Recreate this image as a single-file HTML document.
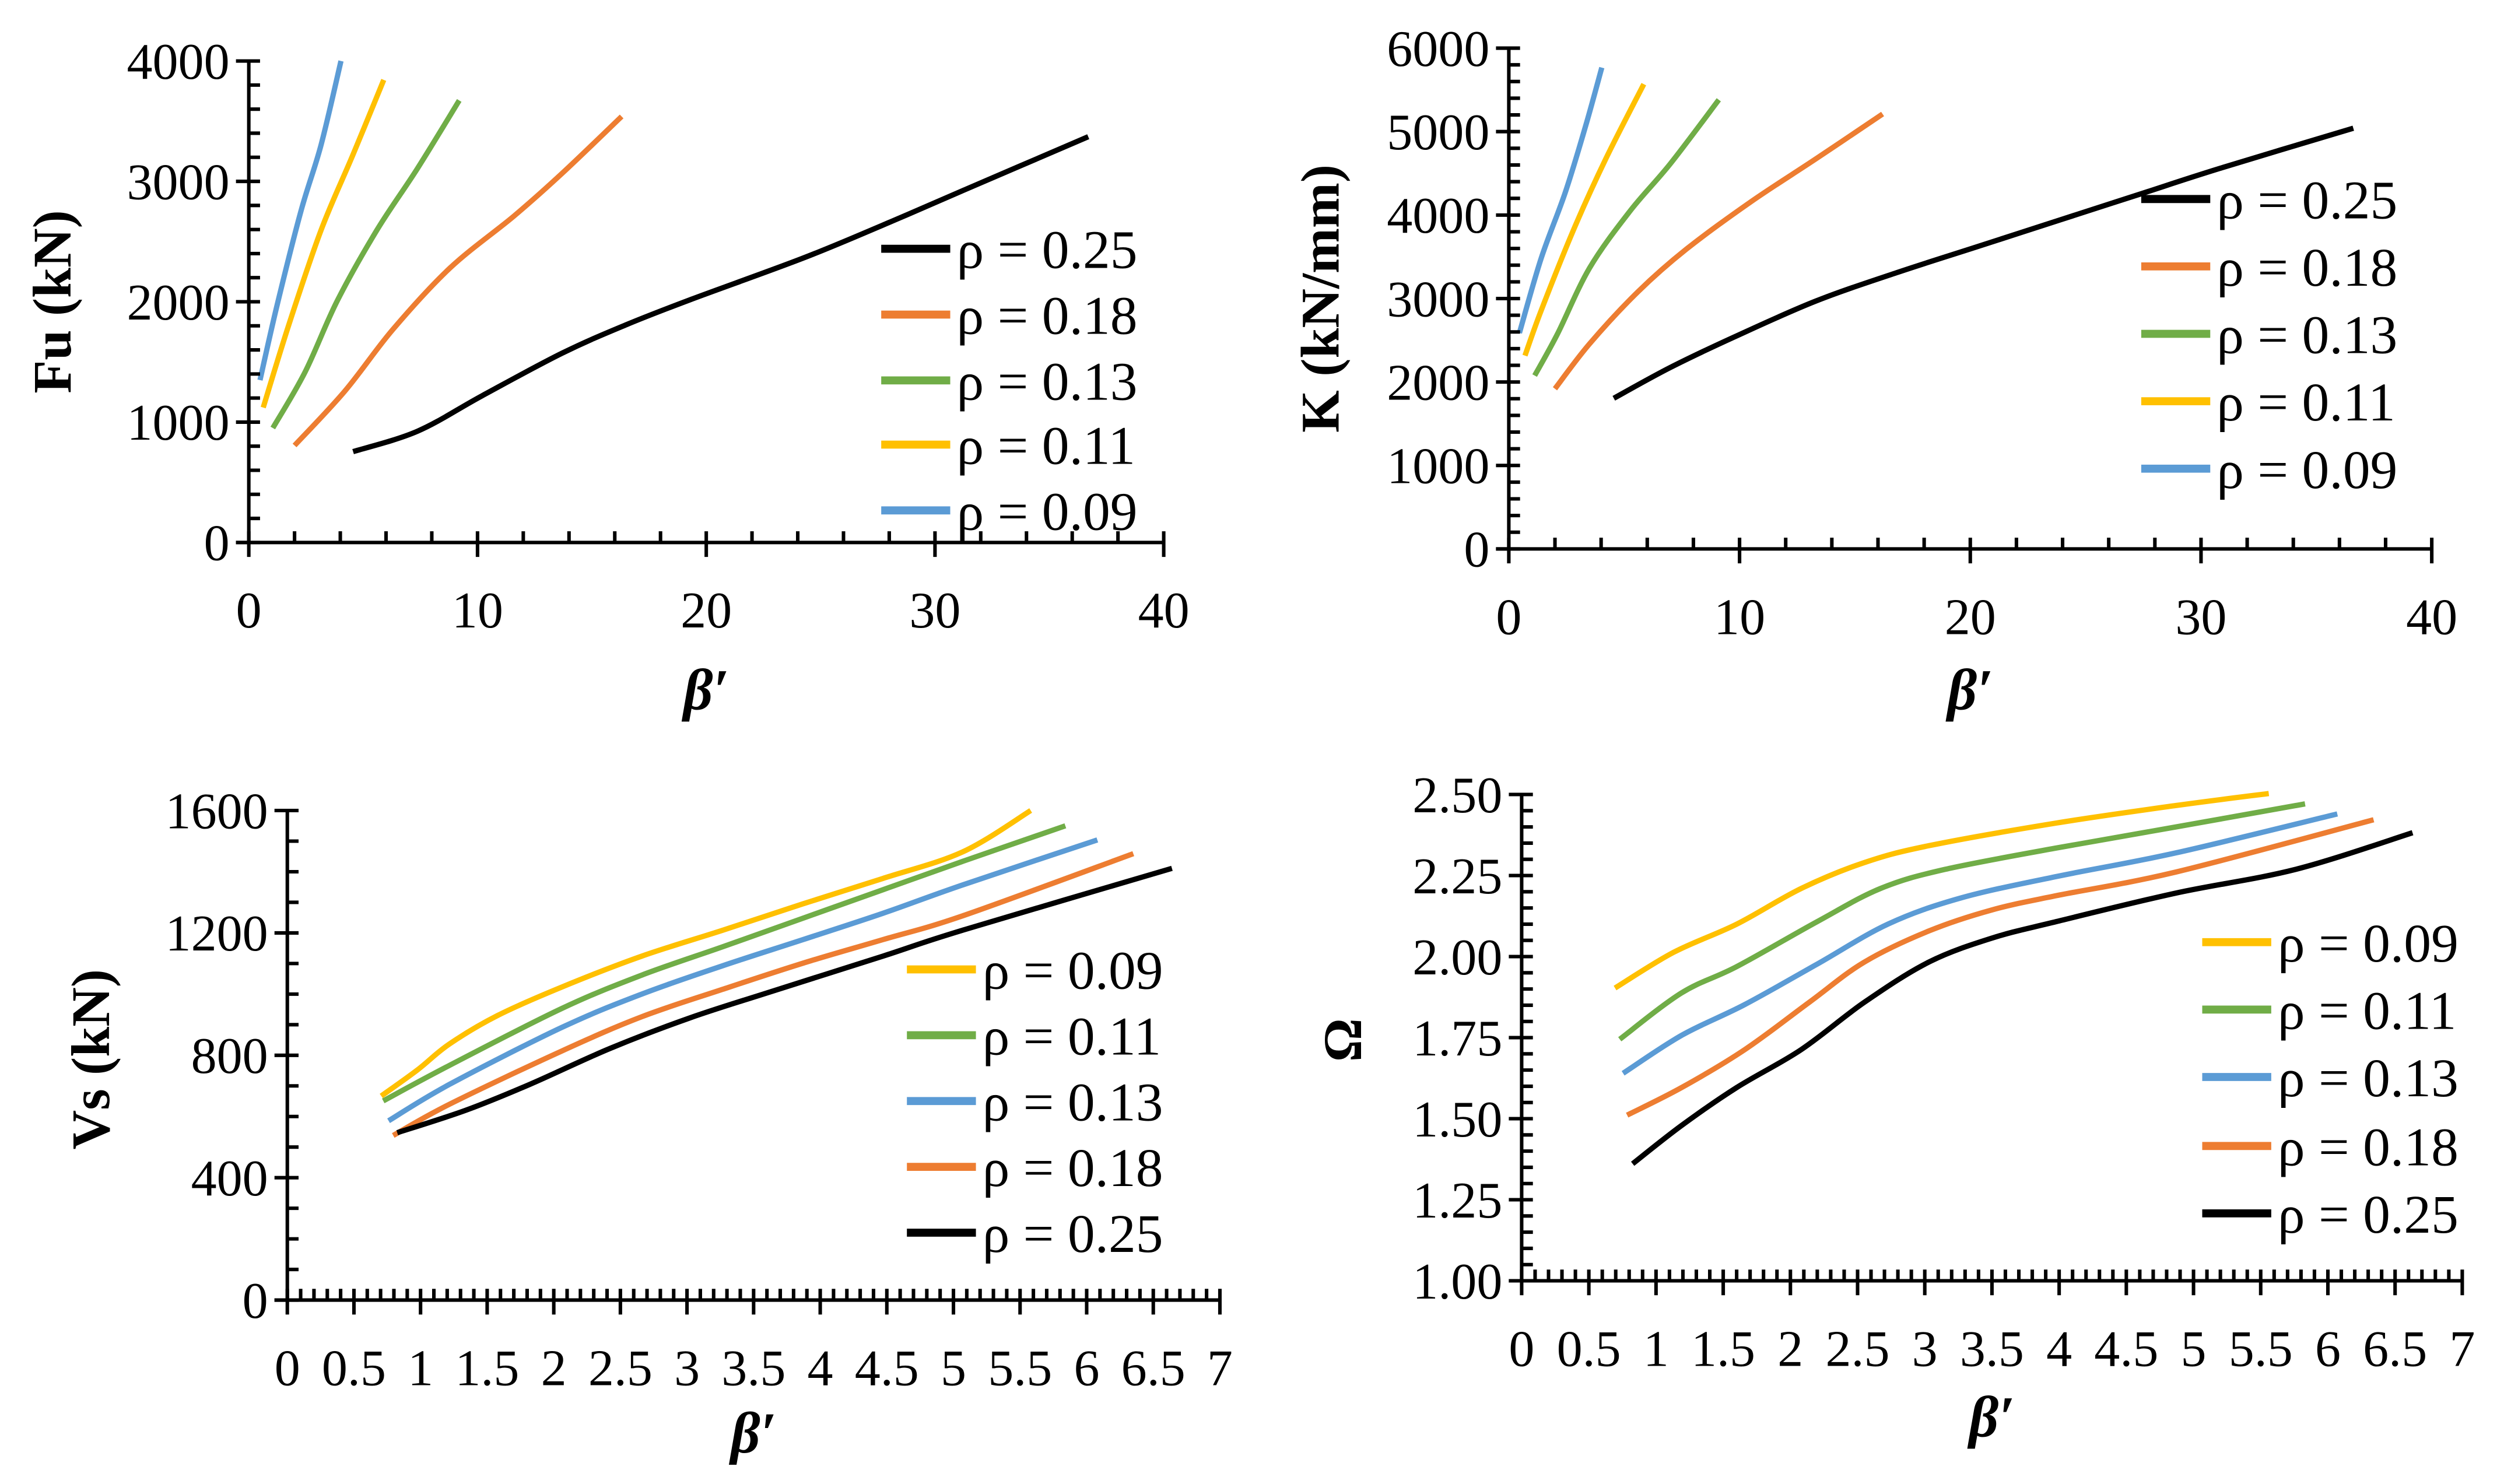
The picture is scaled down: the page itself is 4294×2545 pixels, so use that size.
<!DOCTYPE html>
<html><head><meta charset="utf-8"><style>
html,body{margin:0;padding:0;background:#fff;}
svg{display:block;}
text{font-family:"Liberation Serif","DejaVu Serif",serif;fill:#000;}
</style></head><body>
<svg id="fig" width="4294" height="2545" viewBox="0 0 1560 924.6" xmlns="http://www.w3.org/2000/svg"></svg>
<script>
// ---- data ----
const p1Black_x=[4.56,7.37,10.2,13.7,16.5,19.3,24.2,27.7,31.2,36.7];
const p1Black_y=[755,924,1219,1573,1809,2017,2360,2635,2922,3371];
const p1Orange_x=[2.0,4.2,6.3,8.8,11.6,13.7,16.3];
const p1Orange_y=[806,1258,1770,2281,2713,3067,3539];
const p1Green_x=[1.05,2.46,3.86,5.6,7.37,9.2];
const p1Green_y=[951,1416,2005,2595,3106,3672];
const p1Yellow_x=[0.63,1.75,3.16,4.56,5.9];
const p1Yellow_y=[1121,1809,2595,3224,3843];
const p1Blue_x=[0.49,1.23,2.28,3.16,4.03];
const p1Blue_y=[1349,1966,2753,3303,4000];

const p2Black_x=[4.55,7.0,9.8,13.3,16.8,20.3,23.8,27.3,30.8,36.6];
const p2Black_y=[1805,2174,2543,2969,3309,3621,3934,4246,4558,5041];
const p2Orange_x=[2.0,3.5,5.6,7.7,10.5,13.3,16.2];
const p2Orange_y=[1919,2458,3082,3593,4161,4672,5211];
const p2Green_x=[1.12,2.1,3.5,5.25,7.0,9.1];
const p2Green_y=[2077,2571,3366,4047,4615,5381];
const p2Yellow_x=[0.7,1.4,2.8,4.2,5.85];
const p2Yellow_y=[2316,2855,3820,4672,5569];
const p2Blue_x=[0.46,1.4,2.45,3.33,4.03];
const p2Blue_y=[2588,3480,4274,5069,5767];

const p3Yellow_x=[0.705,0.976,1.217,1.578,2.06,2.66,3.27,3.87,4.47,5.07,5.58];
const p3Yellow_y=[667,752,837,930,1023,1124,1209,1295,1378,1465,1600];
const p3Green_x=[0.72,1.217,2.06,2.66,3.27,3.87,4.47,5.07,5.84];
const p3Green_y=[651,767,953,1062,1155,1248,1341,1434,1550];
const p3Blue_x=[0.76,1.217,2.06,2.66,3.27,3.87,4.47,5.07,6.08];
const p3Blue_y=[586,705,891,1000,1093,1178,1264,1357,1504];
const p3Orange_x=[0.795,1.217,2.06,2.66,3.27,3.87,4.47,5.07,6.35];
const p3Orange_y=[538,640,814,926,1016,1101,1178,1256,1459];
const p3Black_x=[0.825,1.337,1.82,2.42,3.02,3.63,4.47,5.07,6.64];
const p3Black_y=[547,620,705,822,922,1008,1124,1209,1411];

const p4Yellow_x=[0.695,1.13,1.6,2.08,2.55,3.03,3.98,4.87,5.56];
const p4Yellow_y=[1.903,2.013,2.10,2.21,2.29,2.342,2.412,2.466,2.503];
const p4Green_x=[0.73,1.19,1.6,2.2,2.67,3.15,3.98,4.87,5.83];
const p4Green_y=[1.745,1.888,1.969,2.108,2.21,2.269,2.335,2.40,2.471];
const p4Blue_x=[0.755,1.19,1.66,2.2,2.73,3.27,3.98,4.87,6.07];
const p4Blue_y=[1.64,1.757,1.852,1.977,2.101,2.181,2.247,2.32,2.44];
const p4Orange_x=[0.785,1.19,1.66,2.14,2.55,3.03,3.5,3.98,4.87,6.34];
const p4Orange_y=[1.511,1.596,1.713,1.859,1.983,2.079,2.144,2.188,2.261,2.422];
const p4Black_x=[0.826,1.19,1.6,2.08,2.55,3.03,3.5,3.98,4.87,5.76,6.63];
const p4Black_y=[1.361,1.479,1.596,1.713,1.859,1.983,2.057,2.108,2.196,2.269,2.382];

const yTicks1=["0","1000","2000","3000","4000"];
const yTicks2=["0","1000","2000","3000","4000","5000","6000"];
const xTicksA=["0","10","20","30","40"];
const yTicks3=["0","400","800","1200","1600"];
const yTicks4=["1.00","1.25","1.50","1.75","2.00","2.25","2.50"];
const xTicksB=["0","0.5","1","1.5","2","2.5","3","3.5","4","4.5","5","5.5","6","6.5","7"];

const C={black:"#000000",orange:"#ED7D31",green:"#70AD47",yellow:"#FFC000",blue:"#5B9BD5"};
const svg=document.getElementById('fig');
const NS="http://www.w3.org/2000/svg";
function mk(tag,attrs,parent){const e=document.createElementNS(NS,tag);for(const k in attrs)e.setAttribute(k,attrs[k]);(parent||svg).appendChild(e);return e;}
function smooth(pts){let d="M"+pts[0][0]+","+pts[0][1];for(let i=0;i<pts.length-1;i++){const p0=pts[i-1]||pts[i],p1=pts[i],p2=pts[i+1],p3=pts[i+2]||p2;
 const c1x=p1[0]+(p2[0]-p0[0])/6,c1y=p1[1]+(p2[1]-p0[1])/6,c2x=p2[0]-(p3[0]-p1[0])/6,c2y=p2[1]-(p3[1]-p1[1])/6;
 d+=" C"+c1x+","+c1y+" "+c2x+","+c2y+" "+p2[0]+","+p2[1];}return d;}

function panel(cfg){
 const g=mk('g',{});
 
 
 const sx=v=>cfg.x0+(v-cfg.xmin)/(cfg.xmax-cfg.xmin)*(cfg.x1-cfg.x0);
 const sy=v=>cfg.y0-(v-cfg.ymin)/(cfg.ymax-cfg.ymin)*(cfg.y0-cfg.y1);
 cfg.series.forEach(s=>{
  const pts=s.x.map((v,i)=>[sx(v),sy(s.y[i])]);
  const p=mk('path',{d:smooth(pts),fill:'none',stroke:C[s.c],'stroke-width':3.3,'stroke-linejoin':'round'},g);
  
  
 });
 const ax=mk('g',{stroke:'#000','stroke-width':2.2},g);
 
 
 mk('line',{x1:cfg.x0,y1:cfg.y0,x2:cfg.x0,y2:cfg.y1},ax);
 mk('line',{x1:cfg.x0-8,y1:cfg.y0,x2:cfg.x1,y2:cfg.y0},ax);
 const nyMin=Math.round((cfg.ymax-cfg.ymin)/cfg.yminor);
 for(let i=0;i<=nyMin;i++){const v=cfg.ymin+i*cfg.yminor,y=sy(v);
  const major=Math.abs(((v-cfg.ymin)/cfg.ymajor)-Math.round((v-cfg.ymin)/cfg.ymajor))<1e-6;
  mk('line',{x1:major?cfg.x0-8:cfg.x0,y1:y,x2:cfg.x0+7,y2:y},ax);}
 const nxMin=Math.round((cfg.xmax-cfg.xmin)/cfg.xminor);
 for(let i=0;i<=nxMin;i++){const v=cfg.xmin+i*cfg.xminor,x=sx(v);
  const major=Math.abs(((v-cfg.xmin)/cfg.xmajor)-Math.round((v-cfg.xmin)/cfg.xmajor))<1e-6;
  mk('line',{x1:x,y1:cfg.y0-7,x2:x,y2:major?cfg.y0+9:cfg.y0},ax);}
 cfg.yt.forEach((t,i)=>{const e=mk('text',{x:cfg.x0-12,y:sy(cfg.ymin+i*cfg.ymajor)+11,'font-size':32,'text-anchor':'end'},g);e.textContent=t;
  
  });
 cfg.xt.forEach((t,i)=>{const e=mk('text',{x:sx(cfg.xmin+i*cfg.xmajor),y:cfg.y0+53,'font-size':32,'text-anchor':'middle'},g);e.textContent=t;
  
  });
 const xt=mk('text',{x:(cfg.x0+cfg.x1)/2,y:cfg.xtitleY,'font-size':36,'font-weight':'bold','font-style':'italic','text-anchor':'middle'},g);
 xt.textContent="β′";
 
 
 const yt=mk('text',{x:0,y:0,'font-size':34,'font-weight':'bold','text-anchor':'middle',transform:`translate(${cfg.ytitleX},${cfg.ytitleY}) rotate(-90)`},g);
 yt.textContent=cfg.ytitle;
 
 
 cfg.legend.forEach((s,i)=>{const y=cfg.legY[i];
  const lg=mk('g',{},g);
  
  
  mk('line',{x1:cfg.legX,y1:y,x2:cfg.legX+43,y2:y,stroke:C[s.c],'stroke-width':5},lg);
  const t=mk('text',{x:cfg.legX+47,y:y+12,'font-size':34},lg);t.textContent=s.label;});
}
const S=(x,y,c,l)=>({x:x,y:y,c:c,label:l});
panel({name:'panel-fu',x0:155,x1:725,y0:338,y1:38,xmin:0,xmax:40,ymin:0,ymax:4000,xmajor:10,xminor:2,ymajor:1000,yminor:200,yt:yTicks1,xt:xTicksA,xtitleY:442,ytitle:'Fu (kN)',ytitleX:44,ytitleY:188,
 series:[S(p1Black_x,p1Black_y,'black','ρ = 0.25'),S(p1Orange_x,p1Orange_y,'orange','ρ = 0.18'),S(p1Green_x,p1Green_y,'green','ρ = 0.13'),S(p1Yellow_x,p1Yellow_y,'yellow','ρ = 0.11'),S(p1Blue_x,p1Blue_y,'blue','ρ = 0.09')],
 legend:[{c:'black',label:'ρ = 0.25'},{c:'orange',label:'ρ = 0.18'},{c:'green',label:'ρ = 0.13'},{c:'yellow',label:'ρ = 0.11'},{c:'blue',label:'ρ = 0.09'}],legX:549,legY:[155,196,237,277,318]});
panel({name:'panel-k',x0:940,x1:1515,y0:342,y1:30,xmin:0,xmax:40,ymin:0,ymax:6000,xmajor:10,xminor:2,ymajor:1000,yminor:200,yt:yTicks2,xt:xTicksA,xtitleY:442,ytitle:'K (kN/mm)',ytitleX:834,ytitleY:186,
 series:[S(p2Black_x,p2Black_y,'black','ρ = 0.25'),S(p2Orange_x,p2Orange_y,'orange','ρ = 0.18'),S(p2Green_x,p2Green_y,'green','ρ = 0.13'),S(p2Yellow_x,p2Yellow_y,'yellow','ρ = 0.11'),S(p2Blue_x,p2Blue_y,'blue','ρ = 0.09')],
 legend:[{c:'black',label:'ρ = 0.25'},{c:'orange',label:'ρ = 0.18'},{c:'green',label:'ρ = 0.13'},{c:'yellow',label:'ρ = 0.11'},{c:'blue',label:'ρ = 0.09'}],legX:1334,legY:[124,166,208,250,292]});
panel({name:'panel-vs',x0:179,x1:760,y0:810,y1:505,xmin:0,xmax:7,ymin:0,ymax:1600,xmajor:0.5,xminor:0.1,ymajor:400,yminor:100,yt:yTicks3,xt:xTicksB,xtitleY:905,ytitle:'Vs (kN)',ytitleX:68,ytitleY:660,
 series:[S(p3Yellow_x,p3Yellow_y,'yellow','ρ = 0.09'),S(p3Green_x,p3Green_y,'green','ρ = 0.11'),S(p3Blue_x,p3Blue_y,'blue','ρ = 0.13'),S(p3Orange_x,p3Orange_y,'orange','ρ = 0.18'),S(p3Black_x,p3Black_y,'black','ρ = 0.25')],
 legend:[{c:'yellow',label:'ρ = 0.09'},{c:'green',label:'ρ = 0.11'},{c:'blue',label:'ρ = 0.13'},{c:'orange',label:'ρ = 0.18'},{c:'black',label:'ρ = 0.25'}],legX:565,legY:[604,645,686,727,768]});
panel({name:'panel-omega',x0:948,x1:1534,y0:798,y1:495,xmin:0,xmax:7,ymin:1,ymax:2.5,xmajor:0.5,xminor:0.1,ymajor:0.25,yminor:0.05,yt:yTicks4,xt:xTicksB,xtitleY:895,ytitle:'Ω',ytitleX:848,ytitleY:648,
 series:[S(p4Yellow_x,p4Yellow_y,'yellow','ρ = 0.09'),S(p4Green_x,p4Green_y,'green','ρ = 0.11'),S(p4Blue_x,p4Blue_y,'blue','ρ = 0.13'),S(p4Orange_x,p4Orange_y,'orange','ρ = 0.18'),S(p4Black_x,p4Black_y,'black','ρ = 0.25')],
 legend:[{c:'yellow',label:'ρ = 0.09'},{c:'green',label:'ρ = 0.11'},{c:'blue',label:'ρ = 0.13'},{c:'orange',label:'ρ = 0.18'},{c:'black',label:'ρ = 0.25'}],legX:1372,legY:[587,629,671,714,756]});
</script>
</body></html>
